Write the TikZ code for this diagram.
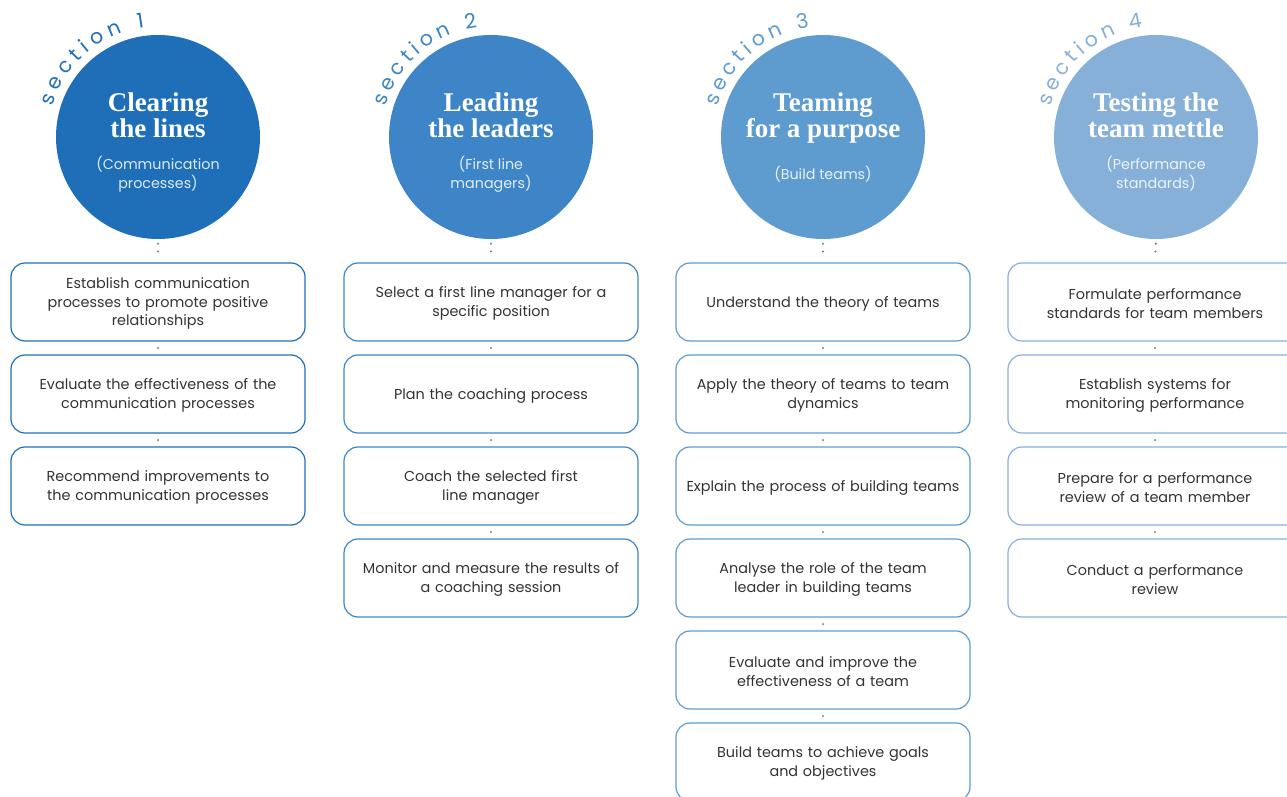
\documentclass[tikz,border=0pt]{standalone}
\usepackage{fontspec}
\setmainfont{Poppins}
\newfontfamily\titlefont{Liberation Serif}
\usetikzlibrary{calc,decorations.text}
\definecolor{c1}{HTML}{1F6FB8}
\definecolor{c2}{HTML}{3D85C6}
\definecolor{c3}{HTML}{5E9BCF}
\definecolor{c4}{HTML}{86B0D8}
\definecolor{bodytext}{HTML}{333333}
\definecolor{dotgray}{HTML}{7A7A7A}
\tikzset{
  circ/.style={circle, minimum size=204pt, inner sep=0pt, fill=#1},
  ttl/.style={font=\titlefont\bfseries\fontsize{27}{26}\selectfont, text=white, anchor=base, inner sep=0pt},
  sub/.style={font=\fontsize{14.3}{19}\selectfont, text=white!85!#1, anchor=base, inner sep=0pt},
  stepbox/.style={draw=#1, line width=1.2pt, rounded corners=14pt, minimum width=294pt, minimum height=78pt,
     inner sep=0pt, text width=286pt, align=center, text=bodytext, font=\fontsize{14.4}{18.5}\selectfont},
  steptext/.style={inner sep=0pt, text width=286pt, align=center, text=bodytext, font=\fontsize{14.4}{18.5}\selectfont},
  dotline/.style={dotgray, line width=2.4pt, line cap=round, dash pattern=on 0.01pt off 7.8pt, shorten <=4.5pt, shorten >=4pt},
  gapdot/.style={dotgray, line width=2.4pt, line cap=round, dash pattern=on 0.01pt off 7.5pt, shorten <=6.5pt, shorten >=6.5pt},
}
\newcommand\sectlabel[3]{% center, text, color
  \path[decorate, decoration={text along path, text={|\fontsize{20.5}{20}\selectfont\color{#3}|#2}, text align={fit to path}}]
    ($(#1)+(164:110)$) arc[start angle=164, end angle=97, radius=110];}
\newcommand\stepnode[4]{% name, color, position, text
  \node[stepbox=#2] (#1) at #3 {};
  \node[steptext] (#1t) at ([yshift=-1.5pt]#1.center) {#4};}
\begin{document}
\begin{tikzpicture}[x=1pt,y=1pt]
\useasboundingbox (0,0) rectangle (1287,796);
\clip (0,0) rectangle (1287,796);
% circles
\node[circ=c1] (k1) at (158,659) {};
\node[circ=c2] (k2) at (491,659) {};
\node[circ=c3] (k3) at (823,659) {};
\node[circ=c4] (k4) at (1156,659) {};
% section labels
\sectlabel{k1}{section 1}{c1}
\sectlabel{k2}{section 2}{c2}
\sectlabel{k3}{section 3}{c3}
\sectlabel{k4}{section 4}{c4}
% titles
\node[ttl] (t1a) at (158,684) {Clearing};
\node[ttl] (t1b) at (158,658) {the lines};
\node[sub=c1] (s1a) at (158,626) {(Communication};
\node[sub=c1] (s1b) at (158,607) {processes)};
\node[ttl] (t2a) at (491,684) {Leading};
\node[ttl] (t2b) at (491,658) {the leaders};
\node[sub=c2] (s2a) at (491,626) {(First line};
\node[sub=c2] (s2b) at (491,607) {managers)};
\node[ttl] (t3a) at (823,684) {Teaming};
\node[ttl] (t3b) at (823,658) {for a purpose};
\node[sub=c3] (s3a) at (823,616) {(Build teams)};
\node[ttl] (t4a) at (1156,684) {Testing the};
\node[ttl] (t4b) at (1156,658) {team mettle};
\node[sub=c4] (s4a) at (1156,626) {(Performance};
\node[sub=c4] (s4b) at (1156,607) {standards)};
% column 1
\stepnode{b11}{c1}{(158,494)}{Establish communication\\processes to promote positive\\relationships}
\stepnode{b12}{c1}{(158,402)}{Evaluate the effectiveness of the\\communication processes}
\stepnode{b13}{c1}{(158,310)}{Recommend improvements to\\the communication processes}
% column 2
\stepnode{b21}{c2}{(491,494)}{Select a first line manager for a\\specific position}
\stepnode{b22}{c2}{(491,402)}{Plan the coaching process}
\stepnode{b23}{c2}{(491,310)}{Coach the selected first\\line manager}
\stepnode{b24}{c2}{(491,218)}{Monitor and measure the results of\\a coaching session}
% column 3
\stepnode{b31}{c3}{(823,494)}{Understand the theory of teams}
\stepnode{b32}{c3}{(823,402)}{Apply the theory of teams to team\\dynamics}
\stepnode{b33}{c3}{(823,310)}{Explain the process of building teams}
\stepnode{b34}{c3}{(823,218)}{Analyse the role of the team\\leader in building teams}
\stepnode{b35}{c3}{(823,126)}{Evaluate and improve the\\effectiveness of a team}
\stepnode{b36}{c3}{(823,34)}{Build teams to achieve goals\\and objectives}
% column 4
\stepnode{b41}{c4}{(1155,494)}{Formulate performance\\standards for team members}
\stepnode{b42}{c4}{(1155,402)}{Establish systems for\\monitoring performance}
\stepnode{b43}{c4}{(1155,310)}{Prepare for a performance\\review of a team member}
\stepnode{b44}{c4}{(1155,218)}{Conduct a performance\\review}
% connectors
\draw[dotline] (k1.south) -- (b11.north);
\draw[dotline] (k2.south) -- (b21.north);
\draw[dotline] (k3.south) -- (b31.north);
\draw[dotline] (k4.south) -- (b41.north);
\draw[gapdot] (b11.south) -- (b12.north);
\draw[gapdot] (b12.south) -- (b13.north);
\draw[gapdot] (b21.south) -- (b22.north);
\draw[gapdot] (b22.south) -- (b23.north);
\draw[gapdot] (b23.south) -- (b24.north);
\draw[gapdot] (b31.south) -- (b32.north);
\draw[gapdot] (b32.south) -- (b33.north);
\draw[gapdot] (b33.south) -- (b34.north);
\draw[gapdot] (b34.south) -- (b35.north);
\draw[gapdot] (b35.south) -- (b36.north);
\draw[gapdot] (b41.south) -- (b42.north);
\draw[gapdot] (b42.south) -- (b43.north);
\draw[gapdot] (b43.south) -- (b44.north);
\end{tikzpicture}
\end{document}
